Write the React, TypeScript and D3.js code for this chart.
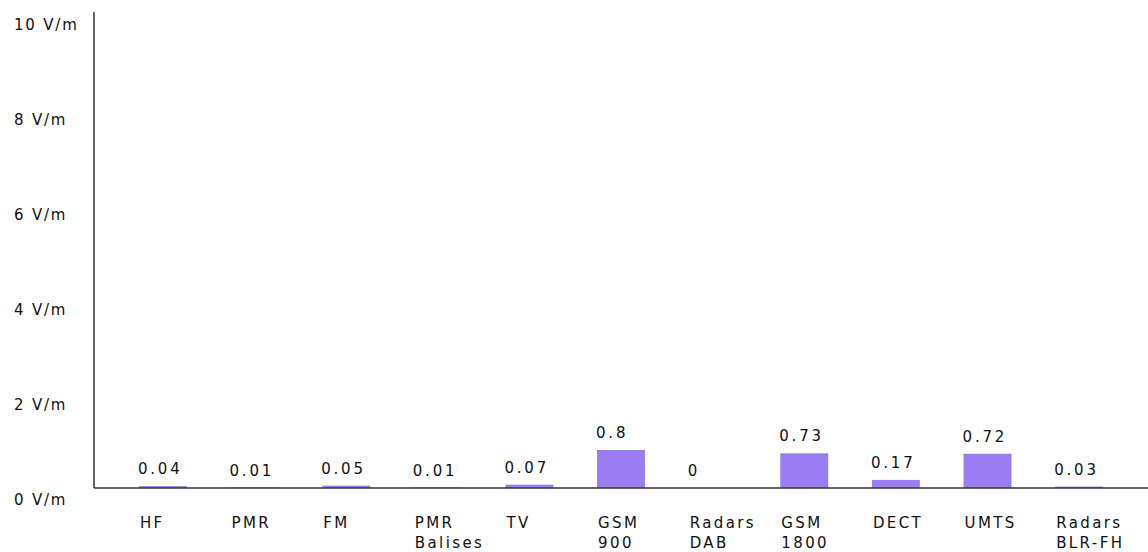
import React from "react";
import * as d3 from "d3";

const categories: string[] = [
  "HF",
  "PMR",
  "FM",
  "PMR\nBalises",
  "TV",
  "GSM\n900",
  "Radars\nDAB",
  "GSM\n1800",
  "DECT",
  "UMTS",
  "Radars\nBLR-FH",
];
const values: number[] = [0.04, 0.01, 0.05, 0.01, 0.07, 0.8, 0, 0.73, 0.17, 0.72, 0.03];
const yTicks: number[] = [0, 2, 4, 6, 8, 10];
const unit = "V/m";

const W = 1148;
const H = 552;
const FONT = "'DejaVu Sans', Verdana, sans-serif";

export default function App() {
  const x = d3
    .scaleBand<string>()
    .domain(categories)
    .range([94, 1148])
    .paddingInner(0.477)
    .paddingOuter(0.49);
  const y = d3.scaleLinear().domain([0, 10]).range([488, 13]);

  return (
    <svg
      width={W}
      height={H}
      style={{ position: "absolute", left: 0, top: 0, background: "#fff" }}
    >
      {/* bars */}
      {categories.map((c, i) => (
        <rect
          key={"b" + c}
          x={x(c)}
          y={y(values[i])}
          width={x.bandwidth()}
          height={y(0) - y(values[i])}
          fill="#9b7cf3"
        />
      ))}
      {/* axes */}
      <line x1={94} x2={94} y1={12} y2={y(0)} stroke="#333" strokeWidth={1.5} />
      <line x1={94} x2={W} y1={y(0)} y2={y(0)} stroke="#333" strokeWidth={1.5} />
      {/* y tick labels */}
      {yTicks.map((t) => (
        <text
          key={"t" + t}
          x={14}
          y={y(t) + 17}
          fontFamily={FONT}
          fontSize={15}
          letterSpacing={1.8}
          fill="#111"
        >
          {`${t} ${unit}`}
        </text>
      ))}
      {/* value labels */}
      {categories.map((c, i) => (
        <text
          key={"v" + c}
          x={(x(c) as number) - 1}
          y={y(values[i]) - 12}
          fontFamily={FONT}
          fontSize={15}
          letterSpacing={2.8}
          fill="#111"
        >
          {String(values[i])}
        </text>
      ))}
      {/* category labels */}
      {categories.map((c) => (
        <text
          key={"c" + c}
          x={(x(c) as number) + 1}
          y={y(0) + 40}
          fontFamily={FONT}
          fontSize={15}
          letterSpacing={2.4}
          fill="#111"
        >
          {c.split("\n").map((line, j) => (
            <tspan key={j} x={(x(c) as number) + 1} dy={j === 0 ? 0 : 20}>
              {line}
            </tspan>
          ))}
        </text>
      ))}
    </svg>
  );
}
